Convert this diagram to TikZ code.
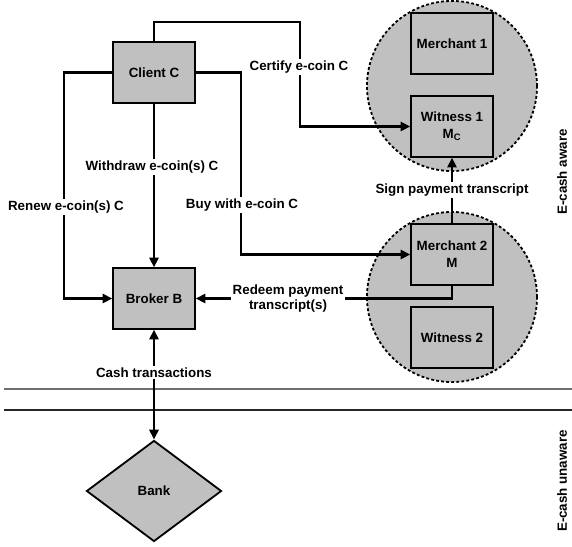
\documentclass[tikz,border=0pt]{standalone}
\usepackage{fontspec}
\setmainfont{Liberation Sans}
\usetikzlibrary{arrows.meta, shapes.geometric}

\begin{document}
\begin{tikzpicture}[
    x=0.025cm, y=-0.025cm,
    every node/.style={font=\fontsize{9.5}{11}\selectfont\bfseries},
]

% ---------------------------------------------------------------- colours
\definecolor{fillgray}{HTML}{C0C0C0}   % boxes, circles and the bank
\definecolor{rulegray}{HTML}{6E6E6E}   % upper separator

\tikzset{
    party/.style={rectangle, draw=black, line width=0.9pt, fill=fillgray,
                  minimum width=2.05cm, minimum height=1.525cm, align=center},
    group/.style={circle, draw=black, line width=1.3pt, fill=fillgray,
                  dash pattern=on 2pt off 1.6pt, minimum size=4.25cm},
    tip/.style={Triangle[length=7pt, width=6.5pt]},
    conn/.style={line width=1.6pt, -{Triangle[length=7pt, width=6.5pt]}},
    lbl/.style={fill=white, inner sep=1pt, align=center},
}

\useasboundingbox (0,0) rectangle (572,546);

% ================================================================
% GEOMETRY (one unit = one pixel of the reference, y downwards)
%   client / broker      x = 154
%   merchants/witnesses  x = 452
%   the two groups       y = 86, 297
%   separators           y = 389, 410
% ================================================================

% ---------------------------------------------------------------- groups
\node[group] (grp1) at (452, 86) {};
\node[group] (grp2) at (452, 297) {};

% ---------------------------------------------------------------- parties
\node[party] (client) at (154, 72.5) {Client C};
\node[party] (broker) at (154, 298.5) {Broker B};
\node[party] (merch1) at (452, 43.5) {Merchant 1};
\node[party] (wit1)   at (452, 126.5) {Witness 1\\[1pt]M\textsubscript{C}};
\node[party] (merch2) at (452, 254.5) {Merchant 2\\[1pt]M};
\node[party] (wit2)   at (452, 337.5) {Witness 2};
\node[diamond, draw=black, line width=1.3pt, fill=fillgray, inner sep=0pt,
      minimum width=3.375cm, minimum height=2.525cm] (bank) at (154, 491) {Bank};

% ---------------------------------------------------------------- separators
\draw[rulegray, line width=0.8pt] (4, 389) -- (572, 389);
\draw[black!85, line width=0.8pt] (4, 410) -- (572, 410);

% ---------------------------------------------------------------- bends
\coordinate (certtop) at (300, 22);
\coordinate (renewl)  at (64, 72.5);
\coordinate (buyr)    at (241, 72.5);

% ---------------------------------------------------------------- connectors
\draw[conn] (client.north) |- (certtop) |- (wit1.west);
\draw[conn] (client.south) -- (broker.north);
\draw[conn] (client.west) -- (renewl) |- (broker.west);
\draw[conn] (client.east) -- (buyr) |- (merch2.west);
\draw[conn] (merch2.north) -- (wit1.south);
\draw[conn] (merch2.south) |- (broker.east);
\draw[conn, {Triangle[length=7pt, width=6.5pt]}-{Triangle[length=7pt, width=6.5pt]}]
    (broker.south) -- (bank.north);

% ---------------------------------------------------------------- labels
\node[lbl] (certify)  at (299, 67)    {Certify e-coin C};
\node[lbl] (withdraw) at (152, 167)   {Withdraw e-coin(s) C};
\node[lbl] (renew)    at (66, 207)    {Renew e-coin(s) C};
\node[lbl] (buy)      at (242, 205)   {Buy with e-coin C};
\node[lbl] (sign)     at (452, 190)   {Sign payment transcript};
\node[lbl] (redeem)   at (288, 298.5) {Redeem payment\\transcript(s)};
\node[lbl] (cash)     at (154, 372.5) {Cash transactions};

% ---------------------------------------------------------------- sides
\node[rotate=90] (aware)   at (562, 172) {E-cash aware};
\node[rotate=90] (unaware) at (562, 481) {E-cash unaware};

\end{tikzpicture}
\end{document}
